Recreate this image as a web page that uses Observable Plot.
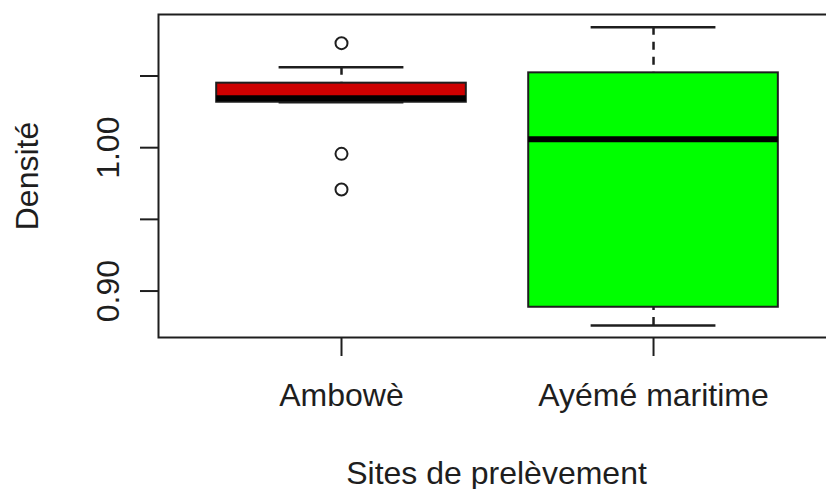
<!DOCTYPE html>
<html>
<head>
<meta charset="utf-8">
<script src="https://cdn.jsdelivr.net/npm/d3@7"></script>
<script src="https://cdn.jsdelivr.net/npm/@observablehq/plot@0.6"></script>
<style>
  html, body { margin: 0; padding: 0; background: #fff; overflow: hidden; }
  svg { max-width: none !important; }
</style>
</head>
<body>
<div id="chart"></div>
<script>
// ---- data ----
const sites = ["Ambowè", "Ayémé maritime"];
const boxFill = ["#CD0000", "#00FF00"];
const whiskerLow = [1.0317, 0.8759];
const q1 = [1.0317, 0.8887];
const median = [1.0344, 1.0058];
const q3 = [1.0450, 1.0522];
const whiskerHigh = [1.0561, 1.0840];
const outlierSite = ["Ambowè", "Ambowè", "Ambowè"];
const outlierValue = [1.0729, 0.9957, 0.9708];
const yTicks = [0.90, 0.95, 1.00, 1.05];
const yTickLabels = ["0.90", "", "1.00", ""];

// ---- table built from the arrays ----
const boxes = sites.map((s, i) => ({
  site: s, pos: i + 1, fill: boxFill[i],
  lo: whiskerLow[i], q1: q1[i], med: median[i], q3: q3[i], hi: whiskerHigh[i]
}));
const outliers = outlierSite.map((s, i) => ({ pos: sites.indexOf(s) + 1, value: outlierValue[i] }));

const boxHalf = 0.4, stapleHalf = 0.2;
const ink = "#1e1e1e";

const chart = Plot.plot({
  width: 834,
  height: 489,
  marginLeft: 158,
  marginRight: 0,
  marginTop: 14,
  marginBottom: 152,
  style: { fontFamily: "'Liberation Sans', Arial, sans-serif", fontSize: "32px", color: ink, background: "#fff", maxWidth: "none" },
  x: { type: "linear", domain: [0.4135, 2.58], axis: null },
  y: { domain: [0.8676, 1.0929], axis: null },
  marks: [
    // whisker stems (dashed), drawn from whisker end toward the box
    Plot.ruleX(boxes, { x: "pos", y1: "hi", y2: "q3", stroke: ink, strokeWidth: 2.5, strokeDasharray: "8,7" }),
    Plot.ruleX(boxes, { x: "pos", y1: "lo", y2: "q1", stroke: ink, strokeWidth: 2.5, strokeDasharray: "8,7" }),
    // staples
    Plot.ruleY(boxes, { y: "hi", x1: d => d.pos - stapleHalf, x2: d => d.pos + stapleHalf, stroke: ink, strokeWidth: 2.5 }),
    Plot.ruleY(boxes, { y: "lo", x1: d => d.pos - stapleHalf, x2: d => d.pos + stapleHalf, stroke: ink, strokeWidth: 2.5 }),
    // boxes
    Plot.rect(boxes, { x1: d => d.pos - boxHalf, x2: d => d.pos + boxHalf, y1: "q1", y2: "q3", fill: "fill", stroke: ink, strokeWidth: 2 }),
    // medians
    Plot.ruleY(boxes, { y: "med", x1: d => d.pos - boxHalf, x2: d => d.pos + boxHalf, stroke: "#000", strokeWidth: 6 }),
    // outliers
    Plot.dot(outliers, { x: "pos", y: "value", r: 6, stroke: ink, strokeWidth: 2, fill: "none" }),
    // axes
    Plot.axisY({
      ticks: yTicks, tickFormat: d => yTickLabels[yTicks.indexOf(d)],
      tickSize: 18, tickPadding: 22, tickRotate: -90, stroke: ink, strokeWidth: 2,
      label: "Densité", labelAnchor: "center", labelOffset: 143, labelArrow: "none"
    }),
    Plot.axisX({
      ticks: [1, 2], tickFormat: d => sites[d - 1],
      tickSize: 19, tickPadding: 27, stroke: ink, strokeWidth: 2,
      label: "Sites de prelèvement", labelAnchor: "center", labelOffset: 146, labelArrow: "none"
    }),
    Plot.frame({ stroke: ink, strokeWidth: 2 })
  ]
});
document.getElementById("chart").appendChild(chart);
</script>
</body>
</html>
